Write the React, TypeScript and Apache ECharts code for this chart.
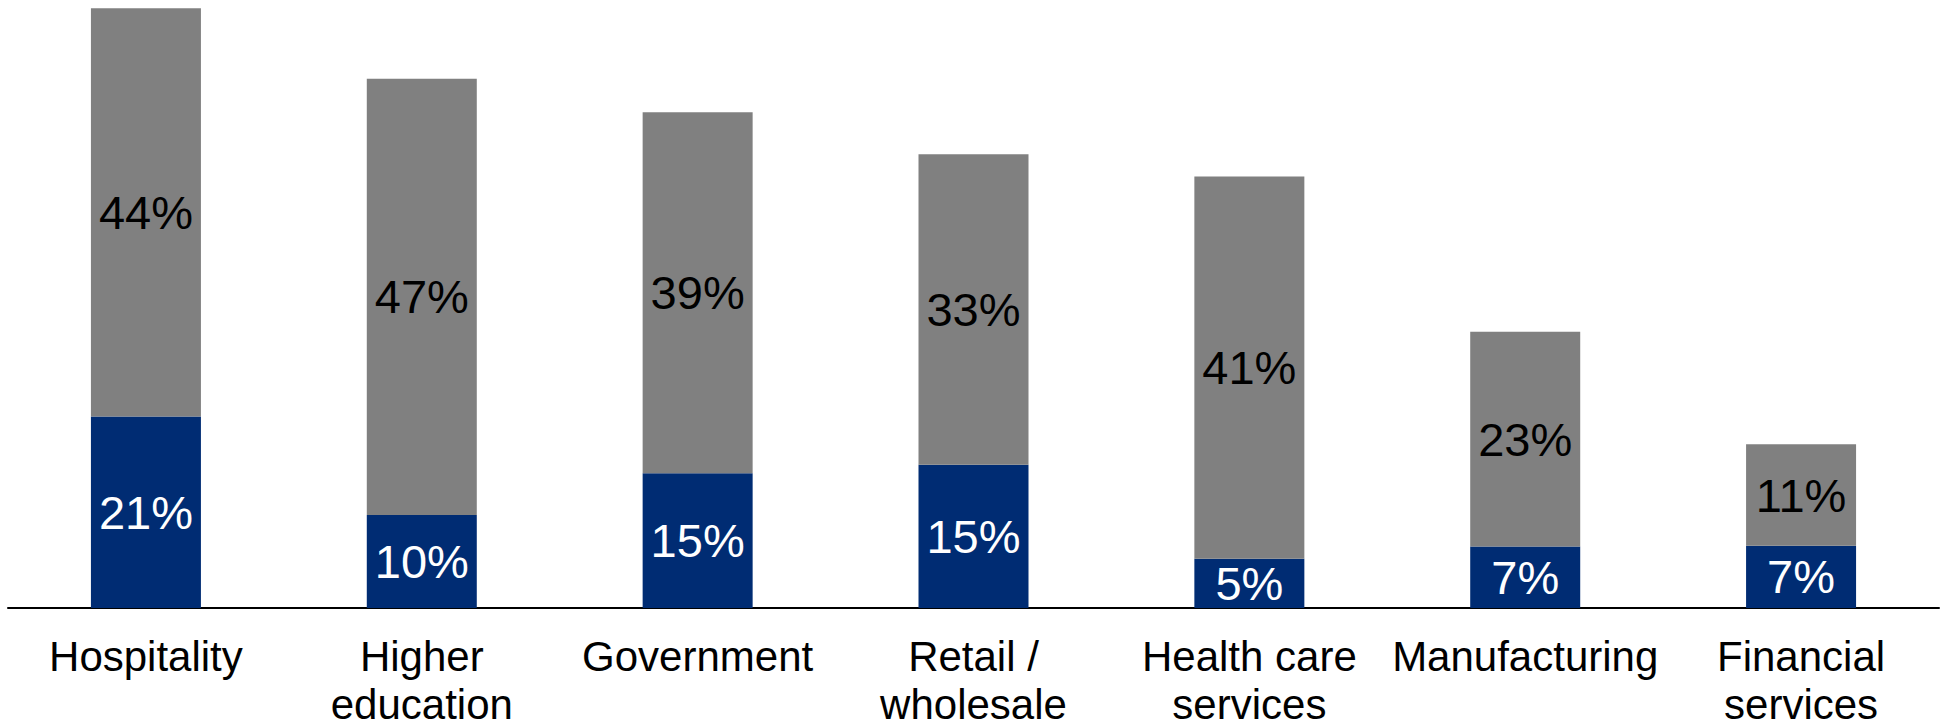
import React, { useEffect, useRef } from "react";
import * as echarts from "echarts";

const categories = [
  "Hospitality",
  "Higher\neducation",
  "Government",
  "Retail /\nwholesale",
  "Health care\nservices",
  "Manufacturing",
  "Financial\nservices",
];

// lower (blue) segment, percent
const lowerValues = [20.6, 10.0, 14.5, 15.4, 5.3, 6.6, 6.7];
// upper (grey) segment, percent
const upperValues = [43.9, 46.9, 38.8, 33.4, 41.1, 23.1, 10.9];

const FONT = "'Liberation Sans', Arial, sans-serif";

export default function App() {
  const ref = useRef<HTMLDivElement>(null);

  useEffect(() => {
    document.body.style.margin = "0";
    document.body.style.overflow = "hidden";
    if (!ref.current) return;
    const chart = echarts.init(ref.current, null, { renderer: "svg" });
    chart.setOption({
      animation: false,
      backgroundColor: "#ffffff",
      grid: { left: 8, right: 2, top: 3.5, bottom: 120, containLabel: false },
      xAxis: {
        type: "category",
        data: categories,
        axisLine: { show: true, lineStyle: { color: "#000000", width: 2 } },
        axisTick: { show: false },
        axisLabel: {
          interval: 0,
          margin: 24,
          color: "#000000",
          fontFamily: FONT,
          fontSize: 42,
          lineHeight: 48,
        },
      },
      yAxis: {
        type: "value",
        min: 0,
        max: 65,
        show: false,
        splitLine: { show: false },
      },
      series: [
        {
          type: "bar",
          stack: "total",
          data: lowerValues,
          barWidth: 110,
          itemStyle: { color: "#002C73" },
          label: {
            show: true,
            position: "inside",
            color: "#ffffff",
            fontFamily: FONT,
            fontSize: 47,
            formatter: (p: any) => Math.round(p.value) + "%",
          },
        },
        {
          type: "bar",
          stack: "total",
          data: upperValues,
          barWidth: 110,
          itemStyle: { color: "#808080" },
          label: {
            show: true,
            position: "inside",
            color: "#000000",
            fontFamily: FONT,
            fontSize: 47,
            formatter: (p: any) => Math.round(p.value) + "%",
          },
        },
      ],
    });
    return () => chart.dispose();
  }, []);

  return (
    <div
      style={{
        position: "relative",
        width: 1941,
        height: 728,
        overflow: "hidden",
      }}
    >
      <div ref={ref} style={{ width: 1941, height: 728 }} />
    </div>
  );
}
